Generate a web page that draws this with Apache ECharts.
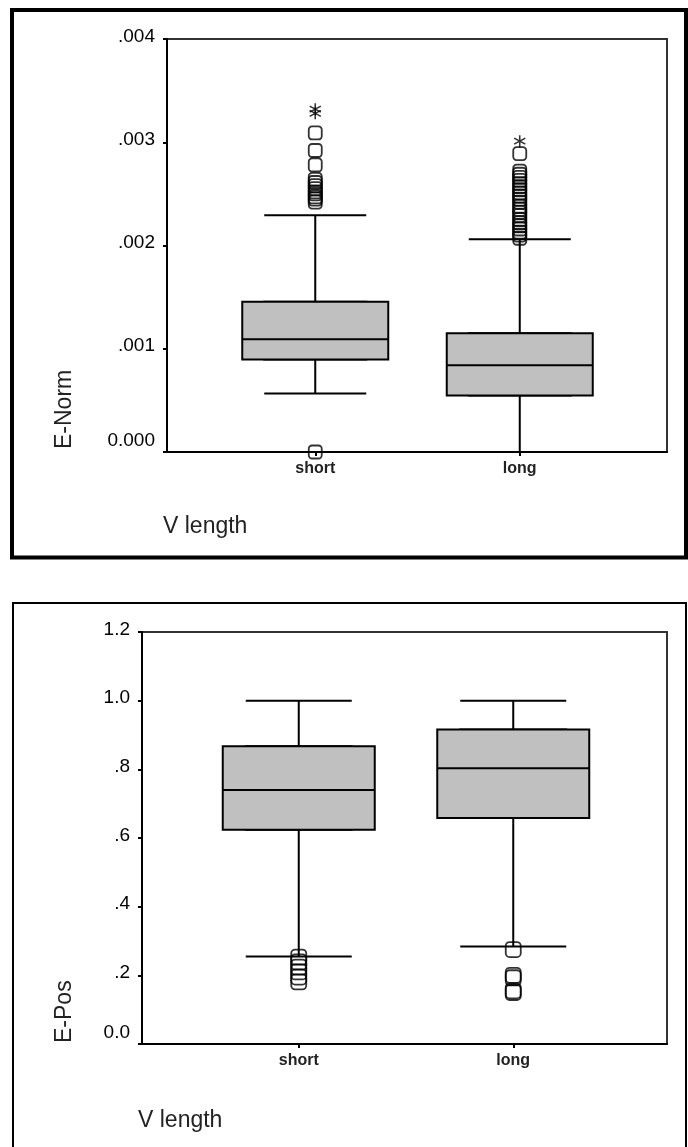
<!DOCTYPE html>
<html>
<head>
<meta charset="utf-8">
<script src="https://cdn.jsdelivr.net/npm/echarts@6/dist/echarts.min.js"></script>
<style>
html,body{margin:0;padding:0;background:#fff;}
#c{width:688px;height:1147px;}
</style>
</head>
<body>
<div id="c"></div>
<script>
// ---- data ----
const categories = ['short', 'long'];

// E-Norm: [min, Q1, median, Q3, max] per category
const eNormBox = [
  [0.000566, 0.000895, 0.001092, 0.001455, 0.002292],
  [0.000000, 0.000548, 0.000839, 0.001150, 0.002060]
];
const eNormOutShort = [0.00000, 0.00242, 0.00245, 0.00247, 0.00250, 0.00252, 0.00255, 0.00258, 0.00261, 0.00264, 0.00278, 0.00292, 0.00309];
const eNormOutLong = [0.00207, 0.00210, 0.00213, 0.00216, 0.00219, 0.00222, 0.00225, 0.00229, 0.00232, 0.00235, 0.00238, 0.00242, 0.00245, 0.00248, 0.00251, 0.00254, 0.00257, 0.00260, 0.00263, 0.00266, 0.00269, 0.00272, 0.00289];
const eNormExtShort = [0.00328, 0.00332];
const eNormExtLong = [0.00301];
const eNormTicks = ['0.000', '.001', '.002', '.003', '.004'];

// E-Pos
const ePosBox = [
  [0.255, 0.624, 0.740, 0.867, 1.000],
  [0.284, 0.658, 0.803, 0.916, 1.000]
];
const ePosOutShort = [0.253, 0.239, 0.224, 0.210, 0.195, 0.181];
const ePosOutLong = [0.275, 0.200, 0.193, 0.155, 0.150];
const ePosTicks = ['0.0', '.2', '.4', '.6', '.8', '1.0', '1.2'];

// ---- helpers ----
const FONT = 'Liberation Sans, Arial, sans-serif';
const boxOnly = b => b.map(r => [r[1], r[1], r[2], r[3], r[3]]);
const pts = (idx, arr) => arr.map(v => [idx, v]);
const STAR = 'path://M4.4,0L5.6,0L5.6,10L4.4,10Z M0.97,1.98L9.63,6.98L9.03,8.02L0.37,3.02Z M0.37,6.98L9.03,1.98L9.63,3.02L0.97,8.02Z';

function yLabelFormatter(ticks, step) {
  return function (v) {
    const i = Math.round(v / step);
    const s = ticks[i];
    return i === 0 ? '{z|' + s + '}' : '{n|' + s + '}';
  };
}
const yRich = {
  n: {fontSize: 19, fontFamily: FONT, color: '#000', padding: [0, 0, 5, 0]},
  z: {fontSize: 19, fontFamily: FONT, color: '#000', padding: [0, 0, 22, 0]}
};

function frameX(grid) {
  return {
    gridIndex: grid, type: 'value', min: 0, max: 1,
    axisLine: {show: true, onZero: false, lineStyle: {color: '#000', width: 2}},
    axisTick: {show: false}, axisLabel: {show: false}, splitLine: {show: false}
  };
}
function dataX(grid, shown) {
  return {
    gridIndex: grid, type: 'category', data: categories, boundaryGap: true,
    show: shown,
    axisLine: {show: false},
    axisTick: {show: shown, alignWithLabel: true, length: 4, lineStyle: {color: '#000', width: 2}},
    axisLabel: {show: shown, margin: 9, fontSize: 16, fontWeight: 'bold', fontFamily: FONT, color: '#222'},
    splitLine: {show: false}
  };
}
function frameY(grid, max, step, ticks) {
  return {
    gridIndex: grid, type: 'value', min: 0, max: max, interval: step,
    axisLine: {show: true, onZero: false, lineStyle: {color: '#000', width: 2}},
    axisTick: {show: true, length: 4, lineStyle: {color: '#000', width: 2}},
    axisLabel: {show: true, margin: 12, formatter: yLabelFormatter(ticks, step), rich: yRich},
    splitLine: {show: false}
  };
}
function dataY(grid, max, step) {
  return {gridIndex: grid, type: 'value', min: 0, max: max, interval: step, show: false, splitLine: {show: false}};
}
const boxStyle = {color: '#c0c0c0', borderColor: '#000', borderWidth: 2};
const outStyle = {color: 'rgba(255,255,255,0)', borderColor: '#000', borderWidth: 1.8};

const option = {
  animation: false,
  backgroundColor: '#fff',
  grid: [
    {left: 167, top: 39, width: 500, height: 413, show: true, borderColor: '#333', borderWidth: 2, backgroundColor: 'transparent'},
    {left: 213, top: 39, width: 409, height: 413},
    {left: 142, top: 632, width: 525, height: 412, show: true, borderColor: '#333', borderWidth: 2, backgroundColor: 'transparent'},
    {left: 191.5, top: 632, width: 429, height: 412}
  ],
  xAxis: [frameX(0), dataX(1, true), dataX(1, false), frameX(2), dataX(3, true), dataX(3, false)],
  yAxis: [frameY(0, 0.004, 0.001, eNormTicks), dataY(1, 0.004, 0.001),
          frameY(2, 1.2, 0.2, ePosTicks), dataY(3, 1.2, 0.2)],
  series: [
    // E-Norm whiskers
    {type: 'boxplot', xAxisIndex: 1, yAxisIndex: 1, data: eNormBox, boxWidth: [102, 102],
     itemStyle: boxStyle, silent: true, emphasis: {disabled: true}},
    // E-Norm boxes
    {type: 'boxplot', xAxisIndex: 2, yAxisIndex: 1, data: boxOnly(eNormBox), boxWidth: [146, 146],
     itemStyle: boxStyle, silent: true, emphasis: {disabled: true}},
    {type: 'scatter', xAxisIndex: 1, yAxisIndex: 1, symbol: 'roundRect', symbolSize: 13,
     data: pts(0, eNormOutShort).concat(pts(1, eNormOutLong)), itemStyle: outStyle, silent: true, emphasis: {disabled: true}},
    {type: 'scatter', xAxisIndex: 1, yAxisIndex: 1, symbol: STAR, symbolSize: [12, 12],
     data: pts(0, eNormExtShort).concat(pts(1, eNormExtLong)), itemStyle: {color: '#000'}, silent: true, emphasis: {disabled: true}},
    // E-Pos whiskers
    {type: 'boxplot', xAxisIndex: 4, yAxisIndex: 3, data: ePosBox, boxWidth: [106, 106],
     itemStyle: boxStyle, silent: true, emphasis: {disabled: true}},
    // E-Pos boxes
    {type: 'boxplot', xAxisIndex: 5, yAxisIndex: 3, data: boxOnly(ePosBox), boxWidth: [152, 152],
     itemStyle: boxStyle, silent: true, emphasis: {disabled: true}},
    {type: 'scatter', xAxisIndex: 4, yAxisIndex: 3, symbol: 'roundRect', symbolSize: 15,
     data: pts(0, ePosOutShort).concat(pts(1, ePosOutLong)), itemStyle: outStyle, silent: true, emphasis: {disabled: true}}
  ],
  graphic: [
    {type: 'rect', shape: {x: 12, y: 10, width: 674, height: 547.5}, style: {fill: 'none', stroke: '#000', lineWidth: 4}, silent: true},
    {type: 'rect', shape: {x: 13, y: 603, width: 673, height: 600}, style: {fill: 'none', stroke: '#000', lineWidth: 2}, silent: true},
    {type: 'text', x: 65, y: 449, rotation: Math.PI / 2, style: {text: 'E-Norm', fontSize: 23, fontFamily: FONT, fill: '#222', align: 'left', verticalAlign: 'middle'}, silent: true},
    {type: 'text', x: 163, y: 527, style: {text: 'V length', fontSize: 23, fontFamily: FONT, fill: '#222', align: 'left', verticalAlign: 'middle'}, silent: true},
    {type: 'text', x: 65, y: 1043, rotation: Math.PI / 2, style: {text: 'E-Pos', fontSize: 23, fontFamily: FONT, fill: '#222', align: 'left', verticalAlign: 'middle'}, silent: true},
    {type: 'text', x: 138, y: 1121, style: {text: 'V length', fontSize: 23, fontFamily: FONT, fill: '#222', align: 'left', verticalAlign: 'middle'}, silent: true}
  ]
};

const chart = echarts.init(document.getElementById('c'), null, {renderer: 'canvas'});
chart.setOption(option);
</script>
</body>
</html>
